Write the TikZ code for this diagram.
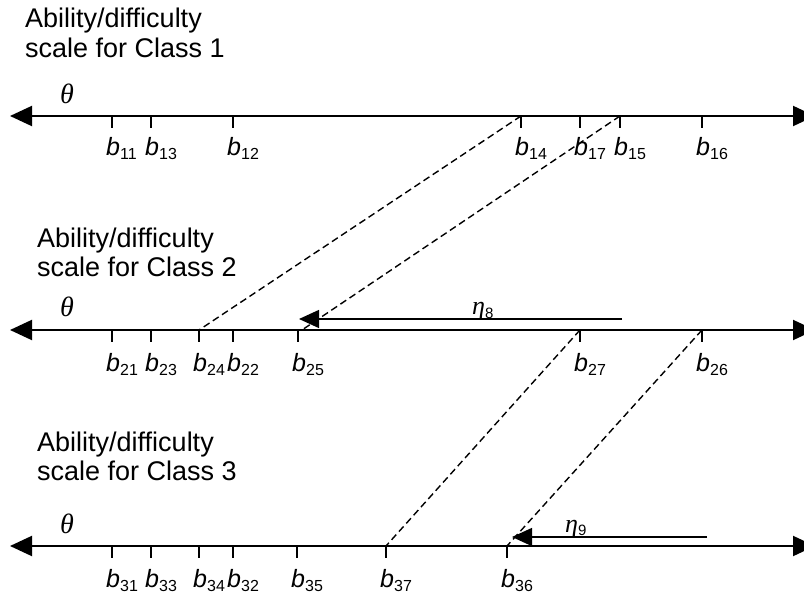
\documentclass[tikz,border=0pt]{standalone}
\usepackage{fontspec}
\setmainfont{Liberation Sans}
\newfontfamily\tnr{Liberation Serif}
\usetikzlibrary{arrows.meta}
\newcommand{\bsub}[1]{{\fontsize{25}{25}\selectfont\itshape b}\raisebox{-4pt}{\fontsize{16}{16}\selectfont #1}}
\newcommand{\thetalbl}{{\tnr\itshape\fontsize{28}{28}\selectfont θ}}
\newcommand{\etalbl}[1]{{\tnr\itshape\fontsize{26}{26}\selectfont η}\raisebox{-3.5pt}{\fontsize{15}{15}\selectfont #1}}
\tikzset{
  axisline/.style={line width=2pt, {Triangle[length=22pt,width=20pt]}-{Triangle[length=22pt,width=20pt]}},
  tickmark/.style={line width=1.5pt},
  dashlink/.style={line width=1.4pt, dash pattern=on 7pt off 4pt},
  shiftarrow/.style={line width=1.4pt, -{Triangle[length=20pt,width=18pt]}},
  blabel/.style={anchor=base west, inner sep=0pt},
  title/.style={anchor=base west, inner sep=0pt, font=\fontsize{27}{30}\selectfont},
  thlabel/.style={anchor=base west, inner sep=0pt},
}
\begin{document}
\begin{tikzpicture}[x=1pt,y=-1pt]
\useasboundingbox (0,0) rectangle (804,596);
% titles
\node[title] (c1a) at (25,28) {Ability/difficulty};
\node[title] (c1b) at (25,58) {scale for Class 1};
\node[title] (c2a) at (37,248) {Ability/difficulty};
\node[title] (c2b) at (37,277) {scale for Class 2};
\node[title] (c3a) at (37,451) {Ability/difficulty};
\node[title] (c3b) at (37,480) {scale for Class 3};
% axes
\coordinate (a1l) at (10,116); \coordinate (a1r) at (815,116);
\coordinate (a2l) at (10,330); \coordinate (a2r) at (815,330);
\coordinate (a3l) at (10,546); \coordinate (a3r) at (815,546);
\draw[axisline] (a1l) -- (a1r);
\draw[axisline] (a2l) -- (a2r);
\draw[axisline] (a3l) -- (a3r);
\node[thlabel] (th1) at (60,104) {\thetalbl};
\node[thlabel] (th2) at (60,317) {\thetalbl};
\node[thlabel] (th3) at (60,533) {\thetalbl};
% ticks axis 1
\foreach \n/\x in {11/112,13/151,12/233,14/521,17/580,15/620,16/702}{
  \coordinate (t\n) at (\x,116);
  \draw[tickmark] (t\n) -- ++(0,12);
  \node[blabel] (l\n) at (\x-6,156) {\bsub{\n}};
}
% ticks axis 2
\foreach \n/\x in {21/112,23/151,24/199,22/233,25/298,27/580,26/702}{
  \coordinate (t\n) at (\x,330);
  \draw[tickmark] (t\n) -- ++(0,12);
  \node[blabel] (l\n) at (\x-6,371) {\bsub{\n}};
}
% ticks axis 3
\foreach \n/\x in {31/112,33/151,34/199,32/233,35/297,37/386,36/507}{
  \coordinate (t\n) at (\x,546);
  \draw[tickmark] (t\n) -- ++(0,12);
  \node[blabel] (l\n) at (\x-6,587) {\bsub{\n}};
}
% dashed links
\coordinate (d25) at (302,330);
\draw[dashlink] (t14) -- (t24);
\draw[dashlink] (t15) -- (d25);
\draw[dashlink] (t27) -- (t37);
\draw[dashlink] (t26) -- (t36);
% shift arrows
\coordinate (e8s) at (622,319); \coordinate (e8e) at (299,319);
\coordinate (e9s) at (707,537); \coordinate (e9e) at (512,537);
\draw[shiftarrow] (e8s) -- (e8e);
\draw[shiftarrow] (e9s) -- (e9e);
\node[thlabel] (eta8) at (472,315) {\etalbl{8}};
\node[thlabel] (eta9) at (565,532) {\etalbl{9}};
\end{tikzpicture}
\end{document}
